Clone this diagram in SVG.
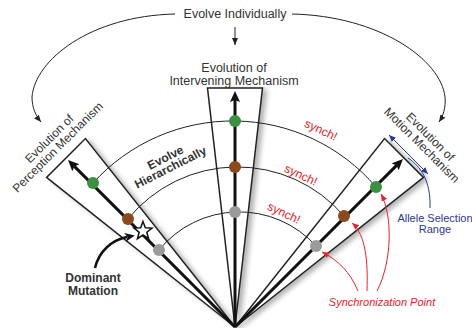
<svg xmlns="http://www.w3.org/2000/svg" width="472" height="328" viewBox="0 0 472 328">
<defs>
<style>
text{font-family:"Liberation Sans",Arial,Helvetica,sans-serif}
.lbl{font-size:12.5px;fill:#333;text-anchor:middle}
.rot{font-size:12px;fill:#333;text-anchor:middle}
.bold{font-size:12px;font-weight:bold;fill:#333;text-anchor:middle}
.syn{font-size:12px;fill:#e8232b;text-anchor:middle}
.sp{font-size:11px;font-style:italic;fill:#e8232b;text-anchor:middle}
.al{font-size:11px;fill:#2b3990;text-anchor:middle}
.wedge{fill:#fff;stroke:#222;stroke-width:1.5;stroke-linejoin:miter}
.axis{stroke:#111;stroke-width:3;fill:none;marker-end:url(#big)}
.arc{fill:none;stroke:#222;stroke-width:1}
.thin{fill:none;stroke:#222;stroke-width:1;marker-end:url(#small)}
.red{fill:none;stroke:#e8232b;stroke-width:1;marker-end:url(#redh)}
.blue{fill:none;stroke:#2b3990;stroke-width:1}
.g{fill:#3d8f41}.br{fill:#8a4a1d}.gy{fill:#9a9a9a}
</style>
<filter id="sh" x="-20%" y="-20%" width="150%" height="150%">
<feGaussianBlur in="SourceAlpha" stdDeviation="2.5"/>
<feOffset dx="4" dy="2"/>
<feComponentTransfer><feFuncA type="linear" slope="0.3"/></feComponentTransfer>
<feMerge><feMergeNode/><feMergeNode in="SourceGraphic"/></feMerge>
</filter>
<marker id="big" markerUnits="userSpaceOnUse" markerWidth="12" markerHeight="11" refX="2" refY="5" orient="auto"><path d="M0,0 L11,5 L0,10 L2,5z" fill="#111"/></marker>
<marker id="small" markerUnits="userSpaceOnUse" markerWidth="8" markerHeight="7" refX="7" refY="3" orient="auto"><path d="M0,0 L7,3 L0,6z" fill="#222"/></marker>
<marker id="redh" markerUnits="userSpaceOnUse" markerWidth="8" markerHeight="7" refX="7" refY="3" orient="auto"><path d="M0,0 L7,3 L0,6z" fill="#e8232b"/></marker>
<marker id="blueh" markerUnits="userSpaceOnUse" markerWidth="8" markerHeight="7" refX="7" refY="3" orient="auto-start-reverse"><path d="M0,0 L7,3 L0,6z" fill="#2b3990"/></marker>
<marker id="dom" markerUnits="userSpaceOnUse" markerWidth="11" markerHeight="10" refX="2" refY="4.5" orient="auto"><path d="M0,0 L10,4.5 L0,9 L2.5,4.5z" fill="#111"/></marker>
<polygon id="wd" points="235,327 207.5,88 262.5,88"/>
</defs>

<g id="wedges" filter="url(#sh)">
<use href="#wd" class="wedge" transform="rotate(-45 235 327)"/>
<use href="#wd" class="wedge"/>
<use href="#wd" class="wedge" transform="rotate(45 235 327)"/>
</g>

<g id="connectors">
<path class="thin" d="M175,14 C90,16 35,60 32,97 C32,108 36,116 41,122"/>
<path class="thin" d="M292,14 C380,16 441,60 445,97 C446,108 443,116 439,122"/>
<line class="thin" x1="235" y1="27" x2="235" y2="45"/>
<path class="arc" d="M93,183 A188.4,188.4 0 0 1 376,187"/>
<path class="arc" d="M128,219 A140.7,140.7 0 0 1 344,216"/>
<path class="arc" d="M159,250 A103.5,103.5 0 0 1 316,246"/>
<line class="axis" x1="235" y1="327" x2="235" y2="100"/>
<line class="axis" x1="235" y1="327" x2="74.4" y2="166.4"/>
<line class="axis" x1="235" y1="327" x2="396.6" y2="165.4"/>
<path d="M95,268 C99,251 112,240 127,237" fill="none" stroke="#111" stroke-width="2.5" marker-end="url(#dom)"/>
<path class="red" d="M358,291 C350,272 338,260 322,252"/>
<path class="red" d="M367,291 C368,262 366,235 352,223"/>
<path class="red" d="M377,291 C392,262 393,216 381,194"/>
<line class="blue" x1="389" y1="135" x2="428" y2="174" marker-start="url(#blueh)" marker-end="url(#blueh)"/>
<path class="blue" d="M408,158 C420,166 431,180 430,208"/>
</g>

<g id="intervening">
<circle class="g" cx="235" cy="121" r="6"/>
<circle class="br" cx="235" cy="167" r="6"/>
<circle class="gy" cx="235" cy="212" r="6"/>
<text class="lbl" x="234" y="72">Evolution of</text>
<text class="lbl" x="234" y="84.5">Intervening Mechanism</text>
</g>

<g id="perception">
<circle class="g" cx="93" cy="183" r="6"/>
<circle class="br" cx="128" cy="219" r="6"/>
<circle class="gy" cx="159" cy="250" r="6"/>
<text class="rot" transform="translate(53.5,143) rotate(-45)"><tspan x="0" y="-2">Evolution of</tspan><tspan x="0" y="10">Perception Mechanism</tspan></text>
</g>

<g id="motion">
<circle class="g" cx="376" cy="187" r="6"/>
<circle class="br" cx="344" cy="216" r="6"/>
<circle class="gy" cx="316" cy="246" r="6"/>
<text class="rot" transform="translate(426,141) rotate(45)"><tspan x="0" y="-2">Evolution of</tspan><tspan x="0" y="10">Motion Mechanism</tspan></text>
</g>

<g id="evolve-individually">
<text class="lbl" x="235" y="18">Evolve Individually</text>
</g>

<g id="evolve-hierarchically">
<text class="bold" transform="translate(168,162.5) rotate(-27)"><tspan x="0" y="-1.5">Evolve</tspan><tspan x="0" y="9.5">Hierarchically</tspan></text>
</g>

<g id="synch-labels">
<text class="syn" transform="translate(321,130) rotate(25)" y="4">synch!</text>
<text class="syn" transform="translate(301,175) rotate(25)" y="4">synch!</text>
<text class="syn" transform="translate(284,213) rotate(25)" y="4">synch!</text>
<text class="sp" x="382" y="305.5">Synchronization Point</text>
</g>

<g id="dominant-mutation">
<polygon points="143,221.5 145.35,227.76 152.03,228.06 146.8,232.24 148.59,238.69 143,235 137.41,238.69 139.2,232.24 133.97,228.06 140.65,227.76" fill="#fff" stroke="#111" stroke-width="1.5" stroke-linejoin="miter"/>
<text class="bold" x="93" y="281.5">Dominant</text>
<text class="bold" x="93" y="294.5">Mutation</text>
</g>

<g id="allele-range">
<text class="al" x="435" y="222">Allele Selection</text>
<text class="al" x="435" y="233">Range</text>
</g>
</svg>
